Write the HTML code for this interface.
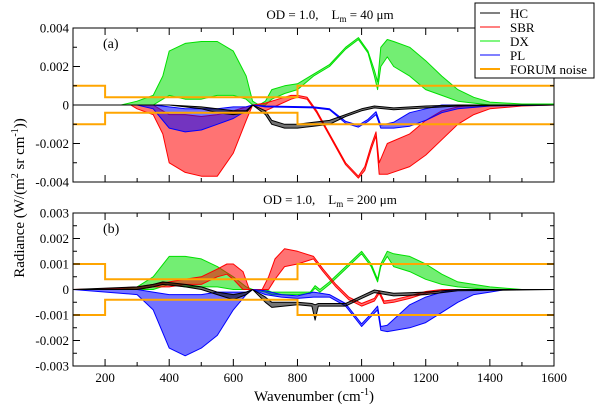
<!DOCTYPE html>
<html><head><meta charset="utf-8"><style>
body{margin:0;background:#fff;position:relative;width:600px;height:410px;overflow:hidden;}
svg{display:block;}
text{font-family:"Liberation Serif","Times New Roman","DejaVu Serif",serif;}
</style></head><body>
<svg id="chart" width="600" height="410" viewBox="0 0 600 410"></svg>
<script>
// ---------- data (units of 1e-3 W/(m2 sr cm-1)) ----------
const noiseWn = [100, 200, 200, 800, 800, 1600];
const noiseVal = [1.0, 1.0, 0.4, 0.4, 1.0, 1.0];

// Panel (a)
const aDXwn = [100,250,300,350,380,400,450,500,550,600,640,660,680,700,720,760,800,850,900,950,990,1020,1040,1050,1060,1080,1100,1150,1200,1250,1300,1350,1400,1500,1600];
const aDXhi = [0,0,0.2,0.5,1.5,2.8,3.2,3.3,3.3,2.8,1.5,0.2,0,0.2,0.8,1.0,1.1,1.6,2.1,3.0,3.5,2.8,1.8,1.2,3.0,3.4,3.3,3.0,2.3,1.5,0.8,0.4,0.15,0.05,0.05];
const aDXlo = [0,0,0,0,0.3,0.5,0.3,0.3,0.5,0.5,0.3,0,0,0,0.3,0.6,0.8,1.5,2.0,2.9,3.4,2.7,1.5,0.8,2.0,2.5,2.0,1.5,0.8,0.5,0.2,0.1,0,0,0];

const aSBRwn = [100,280,300,350,380,400,450,500,550,600,640,660,700,740,780,800,830,860,900,950,990,1010,1030,1045,1055,1080,1150,1200,1250,1300,1350,1400,1500,1600];
const aSBRhi = [0,0,0,0,-0.3,-0.5,-0.5,-0.6,-0.5,-0.3,-0.1,0,0.1,0.3,0.5,0.5,0.4,-0.3,-1.5,-3.0,-3.7,-3.2,-2.1,-1.4,-3.0,-2.0,-1.5,-0.8,-0.3,-0.1,0,0,0,0];
const aSBRlo = [0,0,-0.2,-0.5,-1.5,-3.0,-3.5,-3.7,-3.7,-2.5,-0.8,0,-0.3,0,0.3,0.4,0.3,-0.4,-1.6,-3.1,-3.8,-3.4,-2.3,-1.6,-3.6,-3.6,-3.2,-2.6,-1.8,-1.0,-0.5,-0.2,-0.05,0];

const aPLwn = [100,300,350,400,450,500,550,600,640,660,700,850,900,950,990,1020,1045,1060,1100,1150,1200,1250,1300,1400,1600];
const aPLhi = [0,0,0,-0.1,-0.2,-0.2,-0.2,-0.1,-0.1,0,-0.05,-0.1,-0.2,-0.85,-1.05,-0.75,-0.35,-1.05,-0.9,-0.4,-0.2,0,0,0,0];
const aPLlo = [0,0,-0.2,-1.2,-1.4,-1.3,-1.0,-0.7,-0.3,0,-0.1,-0.15,-0.25,-0.95,-1.15,-0.85,-0.5,-1.2,-1.2,-1.1,-0.8,-0.4,-0.2,-0.05,0];

const aHCwn = [100,400,500,550,600,640,660,700,720,760,800,850,900,950,1000,1040,1100,1200,1300,1600];
const aHChi = [0,0,-0.1,-0.2,-0.3,-0.3,0,-0.3,-0.8,-1.0,-1.0,-0.9,-0.8,-0.5,-0.2,-0.05,-0.15,-0.05,0,0];
const aHClo = [0,0,-0.2,-0.4,-0.5,-0.4,0,-0.5,-1.0,-1.2,-1.2,-1.1,-1.0,-0.6,-0.3,-0.15,-0.25,-0.15,-0.05,0];

// Panel (b)
const bDXwn = [100,250,300,350,400,450,500,550,600,640,660,700,720,800,840,855,870,900,950,1000,1030,1050,1060,1080,1100,1150,1200,1250,1300,1350,1400,1500,1600];
const bDXhi = [0,0,0.1,0.5,1.3,1.3,1.2,0.9,0.5,0.1,0,0,-0.1,-0.1,-0.1,0.15,0,0.3,0.9,1.5,1.0,0.4,1.0,1.5,1.4,1.3,1.0,0.6,0.3,0.2,0.1,0,0];
const bDXlo = [0,0,0,0,0.2,0.1,0.1,0.1,0,0,0,-0.1,-0.2,-0.2,-0.15,0.05,-0.1,0.2,0.8,1.4,0.9,0.3,0.9,1.3,0.9,0.7,0.4,0.2,0.1,0.05,0,0,0];

const bSBRwn = [100,250,300,350,400,450,500,550,580,600,630,650,690,710,730,760,800,850,880,920,960,1000,1040,1055,1070,1100,1150,1200,1250,1300,1600];
const bSBRhi = [0,0.05,0.1,0.2,0.3,0.4,0.5,0.8,1.0,1.0,0.7,0,0,0.5,1.2,1.6,1.5,1.3,0.8,0.2,-0.3,-0.55,-0.35,-0.05,-0.45,-0.4,-0.25,-0.08,0,0,0];
const bSBRlo = [0,0,0,0.1,0.1,0.2,0.2,0.5,0.6,0.4,0,0,0,0,0.4,0.9,1.0,1.2,0.7,0.1,-0.4,-0.65,-0.45,-0.15,-0.55,-0.5,-0.35,-0.15,-0.05,0,0];

const bPLwn = [100,300,350,400,450,500,550,600,640,660,700,750,800,850,900,950,1000,1030,1050,1060,1080,1150,1200,1250,1300,1350,1400,1450,1600];
const bPLhi = [0,0,-0.1,-0.2,-0.2,-0.2,-0.1,-0.1,-0.1,0,-0.05,-0.2,-0.25,-0.1,-0.2,-0.55,-1.35,-0.95,-0.65,-1.45,-1.4,-0.6,-0.3,-0.1,0,0,0,0,0];
const bPLlo = [0,-0.2,-0.8,-2.3,-2.6,-2.3,-1.8,-0.8,-0.2,0,-0.2,-0.3,-0.35,-0.3,-0.3,-0.65,-1.45,-1.05,-0.8,-1.6,-1.65,-1.5,-1.3,-0.9,-0.5,-0.2,-0.1,0,0];

const bHCwn = [100,300,350,380,450,500,550,600,640,660,700,720,800,845,855,865,900,950,1000,1040,1100,1200,1300,1600];
const bHChi = [0,0.1,0.2,0.3,0.2,0.1,-0.1,-0.2,-0.1,0,-0.3,-0.5,-0.5,-0.55,-0.6,-0.55,-0.55,-0.55,-0.25,-0.02,-0.15,-0.1,0,0];
const bHClo = [0,0,0.1,0.2,0.1,0,-0.2,-0.4,-0.2,0,-0.5,-0.7,-0.6,-0.65,-1.2,-0.65,-0.65,-0.65,-0.35,-0.12,-0.25,-0.2,-0.05,0];

const xTicks = [200,400,600,800,1000,1200,1400,1600];
const aYTicks = [-0.004,-0.002,0,0.002,0.004];
const aYLabels = ["-0.004","-0.002","0","0.002","0.004"];
const bYTicks = [-0.003,-0.002,-0.001,0,0.001,0.002,0.003];
const bYLabels = ["-0.003","-0.002","-0.001","0","0.001","0.002","0.003"];

// ---------- drawing ----------
const svg = document.getElementById('chart');
const NS = 'http://www.w3.org/2000/svg';
function mk(tag, attrs, parent){const e=document.createElementNS(NS,tag);for(const k in attrs)e.setAttribute(k,attrs[k]);(parent||svg).appendChild(e);return e;}
const X0=73, X1=554;
function xs(w){return X0+(w-100)/(1500)*(X1-X0);}

const panels = [
 {name:'a', top:28, bot:182, ymax:4, yt:aYTicks, yl:aYLabels, minor:0.001, label:'(a)', title:'40', showX:false,
  series:[[aDXwn,aDXhi,aDXlo,'#00e000','dx'],[aSBRwn,aSBRhi,aSBRlo,'#ff0000','sbr'],[aPLwn,aPLhi,aPLlo,'#0000ff','pl'],[aHCwn,aHChi,aHClo,'#000000','hc']]},
 {name:'b', top:213, bot:366, ymax:3, yt:bYTicks, yl:bYLabels, minor:0.0005, label:'(b)', title:'200', showX:true,
  series:[[bDXwn,bDXhi,bDXlo,'#00e000','dx'],[bSBRwn,bSBRhi,bSBRlo,'#ff0000','sbr'],[bPLwn,bPLhi,bPLlo,'#0000ff','pl'],[bHCwn,bHChi,bHClo,'#000000','hc']]}
];

panels.forEach(p=>{
  const ys = v => (p.top+p.bot)/2 - v/p.ymax*(p.bot-p.top)/2;
  const g = mk('g',{});
  
  
  p.series.forEach(s=>{
    const [wn,hi,lo,col,nm]=s;
    let pts=[];
    for(let i=0;i<wn.length;i++)pts.push(xs(wn[i]).toFixed(1)+','+ys(hi[i]).toFixed(1));
    for(let i=wn.length-1;i>=0;i--)pts.push(xs(wn[i]).toFixed(1)+','+ys(lo[i]).toFixed(1));
    const poly = mk('polygon',{points:pts.join(' '),fill:col,'fill-opacity':0.55,stroke:col,'stroke-width':1,'stroke-linejoin':'round'},g);
    
    
  });
  ['upper','lower'].forEach((side,k)=>{
    const sg = k===0?1:-1;
    const pts = noiseWn.map((w,i)=>xs(w).toFixed(1)+','+ys(sg*noiseVal[i]).toFixed(1)).join(' ');
    const pl = mk('polyline',{points:pts,fill:'none',stroke:'#ffa500','stroke-width':2},g);
    
    
  });
  const fr = mk('rect',{x:X0,y:p.top,width:X1-X0,height:p.bot-p.top,fill:'none',stroke:'#000','stroke-width':1},g);
  
  
  for(let w=200;w<1600;w+=100){
    const x=xs(w); const L = (w%200===0)?7:4;
    mk('line',{x1:x,x2:x,y1:p.bot,y2:p.bot-L,stroke:'#000'},g);
    mk('line',{x1:x,x2:x,y1:p.top,y2:p.top+L,stroke:'#000'},g);
  }
  if(p.showX){
    xTicks.forEach(w=>{
      const t=mk('text',{x:xs(w),y:p.bot+16,'text-anchor':'middle','font-size':13},g);
      t.textContent=w;
      
      
    });
  }
  for(let v=-p.ymax/1000; v<=p.ymax/1000+1e-9; v+=p.minor){
    const y=ys(v*1000); const major = p.yt.some(t=>Math.abs(t-v)<1e-9); const L=major?7:4;
    mk('line',{x1:X0,x2:X0+L,y1:y,y2:y,stroke:'#000'},g);
    mk('line',{x1:X1,x2:X1-L,y1:y,y2:y,stroke:'#000'},g);
  }
  p.yt.forEach((v,i)=>{
    const t=mk('text',{x:X0-4,y:ys(v*1000)+4.5,'text-anchor':'end','font-size':13},g);
    t.textContent=p.yl[i];
    
    
  });
  const lb=mk('text',{x:103,y:p.top+20,'font-size':14},g);
  lb.textContent=p.label;
  
  
  const tt=mk('text',{x:330,y:p.top-9,'text-anchor':'middle','font-size':13},g);
  tt.innerHTML='OD = 1.0,\u00a0\u00a0\u00a0 L<tspan font-size="9" dy="3">m</tspan><tspan dy="-3"> = '+p.title+' \u03bcm</tspan>';
  
  
});
</script>
<svg style="position:absolute;left:0;top:0" width="600" height="410">
  <text transform="translate(24,198) rotate(-90)" text-anchor="middle" font-size="15">Radiance (W/(m<tspan font-size="10" dy="-6">2</tspan><tspan dy="6"> sr cm</tspan><tspan font-size="10" dy="-6">-1</tspan><tspan dy="6">))</tspan></text>
  <text x="314" y="401" text-anchor="middle" font-size="15">Wavenumber (cm<tspan font-size="10" dy="-6">-1</tspan><tspan dy="6">)</tspan></text>
  <g font-size="13">
    <rect x="475" y="3" width="119" height="75" fill="#fff" stroke="#000"/>
    <g><line x1="480" x2="500" y1="13" y2="13" stroke="#000"/><text x="510" y="18">HC</text></g>
    <g><line x1="480" x2="500" y1="27" y2="27" stroke="#f00"/><text x="510" y="32">SBR</text></g>
    <g><line x1="480" x2="500" y1="41" y2="41" stroke="#0e0"/><text x="510" y="46">DX</text></g>
    <g><line x1="480" x2="500" y1="55" y2="55" stroke="#00f"/><text x="510" y="60">PL</text></g>
    <g><line x1="480" x2="500" y1="69" y2="69" stroke="#ffa500" stroke-width="2"/><text x="510" y="74">FORUM noise</text></g>
  </g>
</svg>
</body></html>
